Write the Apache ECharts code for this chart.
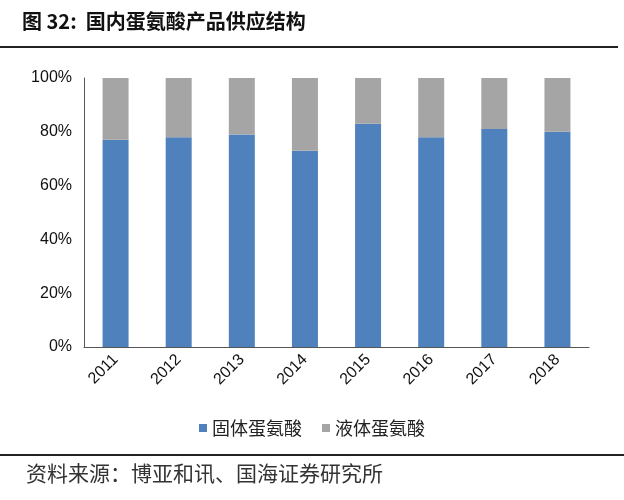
<!DOCTYPE html>
<html>
<head>
<meta charset="utf-8">
<script src="https://cdn.jsdelivr.net/npm/echarts@6/dist/echarts.min.js"></script>
<style>
  html, body { margin: 0; padding: 0; background: #fff; }
  #main { width: 624px; height: 500px; }
</style>
</head>
<body>
<div id="main"></div>
<script>
// 年份
var years = ['2011', '2012', '2013', '2014', '2015', '2016', '2017', '2018'];
// 固体蛋氨酸占比(%)
var solid = [77, 78, 79, 73, 83, 78, 81, 80];
// 液体蛋氨酸占比(%)
var liquid = [23, 22, 21, 27, 17, 22, 19, 20];
var seriesNames = ['固体蛋氨酸', '液体蛋氨酸'];

var myChart = echarts.init(document.getElementById('main'));
var cjk = '"Noto Sans CJK SC", sans-serif';

var option = {
  animation: false,
  backgroundColor: '#fff',
  graphic: [
    { type: 'text', left: 22, top: 11, style: { text: '图 32:  国内蛋氨酸产品供应结构', font: 'bold 20px "Noto Sans CJK SC", sans-serif', fill: '#111' } },
    { type: 'line', shape: { x1: 0, y1: 47, x2: 618, y2: 47 }, style: { stroke: '#222', lineWidth: 2 } },
    { type: 'line', shape: { x1: 0, y1: 455, x2: 624, y2: 455 }, style: { stroke: '#222', lineWidth: 2 } },
    { type: 'text', left: 26, top: 463, style: { text: '资料来源：博亚和讯、国海证券研究所', font: '21px "Noto Sans CJK SC", sans-serif', fill: '#333' } }
  ],
  legend: {
    data: seriesNames,
    left: 'center',
    top: 414,
    itemWidth: 8,
    itemHeight: 8,
    itemGap: 20,
    icon: 'rect',
    textStyle: { fontFamily: cjk, fontSize: 18, color: '#222' }
  },
  grid: { left: 84, right: 35, top: 78, bottom: 153 },
  xAxis: {
    type: 'category',
    data: years,
    axisLine: { lineStyle: { color: '#555' } },
    axisTick: { show: false },
    axisLabel: { rotate: 45, fontFamily: 'Liberation Sans, Arial, sans-serif', fontSize: 16, color: '#111', margin: 10 }
  },
  yAxis: {
    type: 'value',
    min: 0,
    max: 100,
    interval: 20,
    splitLine: { show: false },
    axisLine: { show: true, lineStyle: { color: '#555' } },
    axisTick: { show: false },
    axisLabel: { formatter: '{value}%', fontFamily: 'Liberation Sans, Arial, sans-serif', fontSize: 16, color: '#111', margin: 12 }
  },
  series: [
    { name: seriesNames[0], type: 'bar', stack: 'total', data: solid, barWidth: 26, itemStyle: { color: '#4F81BD' } },
    { name: seriesNames[1], type: 'bar', stack: 'total', data: liquid, barWidth: 26, itemStyle: { color: '#A5A5A5' } }
  ]
};

myChart.setOption(option);
</script>
</body>
</html>
